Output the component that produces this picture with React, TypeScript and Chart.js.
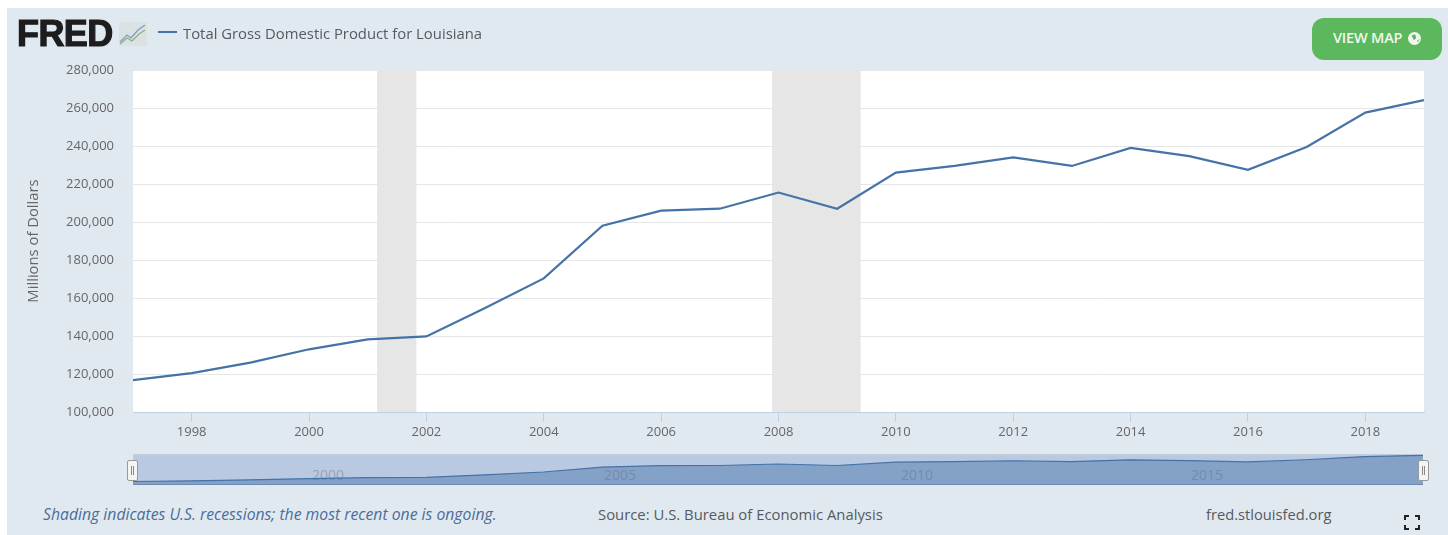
import React, { useEffect, useRef } from "react";
import { Chart, registerables } from "chart.js";

Chart.register(...registerables);

const years = [1997, 1998, 1999, 2000, 2001, 2002, 2003, 2004, 2005, 2006, 2007, 2008, 2009, 2010, 2011, 2012, 2013, 2014, 2015, 2016, 2017, 2018, 2019];
const gdpValues = [116800, 120500, 126000, 133000, 138200, 139800, 154700, 170300, 198000, 206000, 207000, 215500, 207000, 226000, 229500, 234000, 229500, 239000, 234700, 227500, 239500, 257600, 264200];
const recessionStarts = [2001.16, 2007.89];
const recessionEnds = [2001.83, 2009.4];
const xTickYears = [1998, 2000, 2002, 2004, 2006, 2008, 2010, 2012, 2014, 2016, 2018];
const navLabels = [["2000", 328], ["2005", 620], ["2010", 917], ["2015", 1207]] as const;

const seriesTitle = "Total Gross Domestic Product for Louisiana";
const yAxisTitle = "Millions of Dollars";
const FONT = '"Open Sans", sans-serif';
const BLUE = "#4572a7";
const points = years.map((y, i) => ({ x: y, y: gdpValues[i] }));

const plotBg = {
  id: "plotBg",
  beforeDraw(c: any) {
    const { ctx, chartArea: a } = c;
    ctx.save();
    ctx.fillStyle = "#ffffff";
    ctx.fillRect(a.left, a.top, a.right - a.left, a.bottom - a.top);
    ctx.restore();
  },
};
const recessions = {
  id: "recessions",
  beforeDatasetsDraw(c: any) {
    const { ctx, chartArea: a, scales } = c;
    ctx.save();
    ctx.fillStyle = "#e6e6e6";
    recessionStarts.forEach((s, i) => {
      const l = scales.x.getPixelForValue(s);
      const r = scales.x.getPixelForValue(recessionEnds[i]);
      ctx.fillRect(l, a.top, r - l, a.bottom - a.top);
    });
    ctx.restore();
  },
};

const abs = (left: number, top: number, extra: React.CSSProperties = {}): React.CSSProperties => ({
  position: "absolute", left, top, whiteSpace: "nowrap", fontFamily: FONT, ...extra,
});

export default function App() {
  const mainRef = useRef<HTMLCanvasElement>(null);
  const navRef = useRef<HTMLCanvasElement>(null);

  useEffect(() => {
    const main = new Chart(mainRef.current!, {
      type: "line",
      data: { datasets: [{ data: points, borderColor: BLUE, borderWidth: 2.2, pointRadius: 0, tension: 0, fill: false }] },
      options: {
        animation: false, responsive: false,
        layout: { padding: { left: 0, right: 24, top: 70, bottom: 0 } },
        plugins: { legend: { display: false }, tooltip: { enabled: false } },
        scales: {
          x: {
            type: "linear", min: 1997, max: 2019,
            afterFit: (s: any) => { s.height = 38; },
            afterBuildTicks: (s: any) => { s.ticks = xTickYears.map((v) => ({ value: v })); },
            border: { color: "#c0d0e0", width: 1 },
            grid: { drawOnChartArea: false, drawTicks: true, tickLength: 10, tickColor: "#c0d0e0" },
            ticks: { autoSkip: false, maxRotation: 0, padding: 2, color: "#666666", font: { family: FONT, size: 13 }, callback: (v: any) => String(v) },
          },
          y: {
            min: 100000, max: 280000,
            afterFit: (s: any) => { s.width = 133; },
            border: { display: false },
            grid: { color: "#e6e6e6", lineWidth: 1, drawTicks: false },
            ticks: { stepSize: 20000, padding: 19, color: "#666666", font: { family: FONT, size: 13 }, callback: (v: any) => Number(v).toLocaleString("en-US") },
            title: { display: true, text: yAxisTitle, color: "#666666", font: { family: FONT, size: 14.8 }, padding: { top: 25, bottom: 0 } },
          },
        },
      },
      plugins: [plotBg, recessions],
    } as any);

    const nav = new Chart(navRef.current!, {
      type: "line",
      data: { datasets: [{ data: points, borderColor: BLUE, borderWidth: 1.2, pointRadius: 0, tension: 0, fill: "start", backgroundColor: "rgba(69,114,167,0.45)" }] },
      options: {
        animation: false, responsive: false,
        layout: { padding: 0 },
        plugins: { legend: { display: false }, tooltip: { enabled: false } },
        scales: {
          x: { type: "linear", display: false, min: 1997, max: 2019 },
          y: { display: false, min: 97000, max: 272000 },
        },
      },
    } as any);

    return () => { main.destroy(); nav.destroy(); };
  }, []);

  const handle = (left: number) => (
    <div style={{ position: "absolute", left, top: 460, width: 9, height: 19, background: "#f4f4f4", border: "1px solid #999", borderRadius: 2, boxSizing: "content-box" }}>
      <div style={{ position: "absolute", left: 3, top: 5, width: 3, height: 9, borderLeft: "1px solid #888", borderRight: "1px solid #888", boxSizing: "border-box" }} />
    </div>
  );

  const textColor = "#555a60";

  return (
    <div style={{ position: "absolute", left: 0, top: 0, width: 1448, height: 535, overflow: "hidden", background: "#ffffff" }}>
      <div style={{ position: "absolute", left: 7, top: 8, width: 1441, height: 527, background: "#e1e9f0" }} />
      <canvas ref={mainRef} width={1448} height={450} style={{ position: "absolute", left: 0, top: 0, width: 1448, height: 450 }} />

      <div style={abs(17, 14, { fontFamily: '"Liberation Sans", sans-serif', fontWeight: 700, fontSize: 36, lineHeight: "40px", color: "#1d1d1f", letterSpacing: -0.6, WebkitTextStroke: "1.2px #1d1d1f" })}>FRED</div>
      <svg style={{ position: "absolute", left: 119, top: 22 }} width={28} height={24} viewBox="0 0 28 24">
        <rect width={28} height={24} fill="#dbe2e4" />
        <polyline points="1,20 8,13 12,16 19,8 26,3" fill="none" stroke="#7f9fc0" strokeWidth={1.3} />
        <polyline points="1,22 8,16 13,19 20,12 26,8" fill="none" stroke="#8fb080" strokeWidth={1.3} />
      </svg>
      <div style={{ position: "absolute", left: 158, top: 31, width: 19, height: 2, background: BLUE }} />
      <div style={abs(183, 23, { fontSize: 14.85, lineHeight: "20px", color: textColor })}>{seriesTitle}</div>

      <div style={{ position: "absolute", left: 1312, top: 18, width: 130, height: 42, background: "#5cb85c", borderRadius: 12 }} />
      <div style={abs(1333, 29, { fontSize: 14.5, lineHeight: "18px", fontWeight: 600, color: "#f2f7f0", letterSpacing: -0.2 })}>VIEW MAP</div>
      <svg style={{ position: "absolute", left: 1408, top: 32 }} width={13} height={13} viewBox="0 0 11 11">
        <circle cx={5.5} cy={5.5} r={5.5} fill="#f2f7f0" />
        <path d="M3 3 L6 2 L7 5 L5 7 Z M8 7 L10 6 L8 9 Z" fill="#5cb85c" />
      </svg>

      <div style={{ position: "absolute", left: 133, top: 454, width: 1290, height: 31, background: "#b9c9e2" }} />
      <div style={{ position: "absolute", left: 133, top: 454, width: 1290, height: 2, background: "#c0ccd8" }} />
      <div style={{ position: "absolute", left: 133, top: 484, width: 1290, height: 1, background: "#8fa0b8" }} />
      {navLabels.map(([t, x]) => (
        <div key={t} style={abs(x - 16, 466, { fontSize: 14, lineHeight: "18px", color: "#9aa3b0" })}>{t}</div>
      ))}
      <canvas ref={navRef} width={1290} height={31} style={{ position: "absolute", left: 133, top: 454, width: 1290, height: 31 }} />
      {handle(127)}
      {handle(1418)}

      <div style={abs(43, 504, { fontSize: 15.75, lineHeight: "20px", fontStyle: "italic", color: "#4a6d9a" })}>Shading indicates U.S. recessions; the most recent one is ongoing.</div>
      <div style={abs(598, 504, { fontSize: 14.85, lineHeight: "20px", color: textColor })}>Source: U.S. Bureau of Economic Analysis</div>
      <div style={abs(1206, 504, { fontSize: 14.7, lineHeight: "20px", color: textColor })}>fred.stlouisfed.org</div>

      <svg style={{ position: "absolute", left: 1404, top: 515 }} width={16} height={15} viewBox="0 0 16 15">
        <path d="M1 5 V1 H5 M11 1 H15 V5 M15 10 V14 H11 M5 14 H1 V10" fill="none" stroke="#222" strokeWidth={2} />
      </svg>
    </div>
  );
}
